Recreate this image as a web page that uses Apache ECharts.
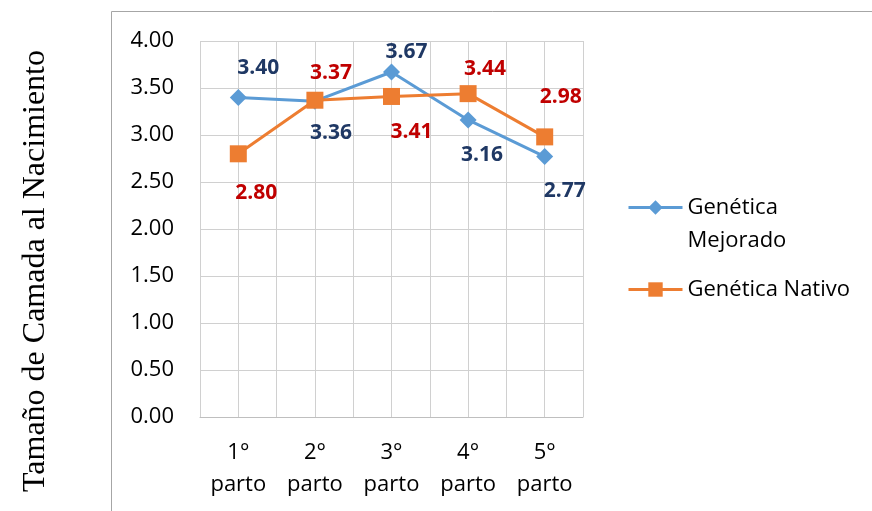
<!DOCTYPE html>
<html>
<head>
<meta charset="utf-8">
<script src="https://cdn.jsdelivr.net/npm/echarts@6/dist/echarts.min.js"></script>
<style>
  html, body { margin: 0; padding: 0; background: #fff; }
  #chart { width: 872px; height: 511px; }
</style>
</head>
<body>
<div id="chart"></div>
<script>
// Litter size at birth by parity, for two genetic lines
const categories = ['1°\nparto', '2°\nparto', '3°\nparto', '4°\nparto', '5°\nparto'];
const mejorado = [3.40, 3.36, 3.67, 3.16, 2.77];
const nativo = [2.80, 3.37, 3.41, 3.44, 2.98];
const yTicks = { min: 0, max: 4, interval: 0.5 };

// Label placement per point: [dx, dy] relative to the point
const mejoradoLabelPos = [[20, -29], [16, 32], [15, -20], [14, 35], [20, 34]];
const nativoLabelPos = [[18, 39], [16, -27], [20, 36], [17, -25], [16, -40]];

const FONT = '"Open Sans", sans-serif';
const FS = 22;

function withLabels(values, offsets) {
  return values.map((v, i) => ({
    value: v,
    label: { offset: offsets[i] }
  }));
}

const chart = echarts.init(document.getElementById('chart'), null, { renderer: 'canvas' });

chart.setOption({
  animation: false,
  backgroundColor: '#fff',
  grid: { left: 200, top: 41, width: 383, height: 376, containLabel: false },
  graphic: [
    {
      type: 'rect',
      shape: { x: 111.5, y: 11.5, width: 800, height: 600 },
      style: { fill: 'none', stroke: '#a6a6a6', lineWidth: 1 },
      z: -10
    },
    {
      type: 'text',
      x: 36, y: 271,
      rotation: Math.PI / 2,
      style: {
        text: 'Tamaño de Camada al Nacimiento',
        font: '32px "Liberation Serif", serif',
        fill: '#000',
        align: 'center',
        verticalAlign: 'middle'
      }
    }
  ],
  xAxis: [
    {
      type: 'category',
      data: categories,
      boundaryGap: true,
      axisLine: { show: true, lineStyle: { color: '#bfbfbf', width: 1 } },
      axisTick: { show: false },
      splitLine: { show: false },
      axisLabel: {
        color: '#000',
        fontFamily: FONT,
        fontSize: FS,
        lineHeight: 32,
        margin: 20,
        interval: 0
      }
    },
    {
      // half-category grid lines
      type: 'value',
      min: 0, max: 10, interval: 1,
      position: 'bottom',
      axisLine: { show: false },
      axisTick: { show: false },
      axisLabel: { show: false },
      splitLine: { show: true, lineStyle: { color: '#d0d0d0', width: 1 } }
    }
  ],
  yAxis: {
    type: 'value',
    min: yTicks.min, max: yTicks.max, interval: yTicks.interval,
    axisLine: { show: false },
    axisTick: { show: false },
    splitLine: { show: true, lineStyle: { color: '#d0d0d0', width: 1 } },
    axisLabel: {
      color: '#000',
      fontFamily: FONT,
      fontSize: FS,
      margin: 26,
      formatter: v => v.toFixed(2)
    }
  },
  legend: {
    orient: 'vertical',
    left: 622,
    top: 153,
    itemWidth: 54,
    itemHeight: 18,
    itemGap: 16,
    lineStyle: { width: 3 },
    textStyle: {
      color: '#000',
      fontFamily: FONT,
      fontSize: FS,
      lineHeight: 33
    },
    // two-line entry keeps its marker on the first line
    formatter: name => name === 'Genética Mejorado' ? '\nGenética\nMejorado' : name,
    data: ['Genética Mejorado', 'Genética Nativo']
  },
  series: [
    {
      name: 'Genética Mejorado',
      type: 'line',
      data: withLabels(mejorado, mejoradoLabelPos),
      symbol: 'diamond',
      symbolSize: 17,
      lineStyle: { color: '#5b9bd5', width: 3 },
      itemStyle: { color: '#5b9bd5' },
      label: {
        show: true,
        position: 'inside',
        color: '#1f3864',
        fontFamily: FONT,
        fontWeight: 'bold',
        fontSize: 21,
        formatter: p => p.value.toFixed(2)
      },
      z: 3
    },
    {
      name: 'Genética Nativo',
      type: 'line',
      data: withLabels(nativo, nativoLabelPos),
      symbol: 'rect',
      symbolSize: 17,
      lineStyle: { color: '#ed7d31', width: 3 },
      itemStyle: { color: '#ed7d31' },
      label: {
        show: true,
        position: 'inside',
        color: '#c00000',
        fontFamily: FONT,
        fontWeight: 'bold',
        fontSize: 21,
        formatter: p => p.value.toFixed(2)
      },
      z: 4
    }
  ]
});
</script>
</body>
</html>
